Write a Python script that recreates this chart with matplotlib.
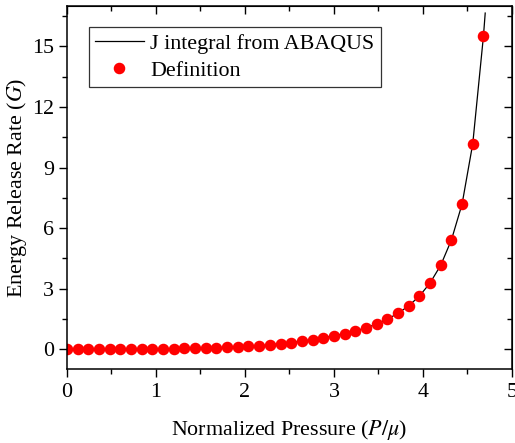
import matplotlib
matplotlib.use('Agg')
import matplotlib.pyplot as plt
from matplotlib.ticker import MultipleLocator, NullFormatter

# normalized pressure P/mu and energy release rate G
pressure = [0.00, 0.12, 0.24, 0.36, 0.48, 0.60, 0.72, 0.84, 0.96, 1.08,
            1.20, 1.32, 1.44, 1.56, 1.68, 1.80, 1.92, 2.04, 2.16, 2.28,
            2.40, 2.52, 2.64, 2.76, 2.88, 3.00, 3.12, 3.24, 3.36, 3.48,
            3.60, 3.72, 3.84, 3.96, 4.08, 4.20, 4.32, 4.44, 4.56, 4.68]
g_definition = [0.000, 0.001, 0.002, 0.004, 0.006, 0.009, 0.012, 0.016, 0.021, 0.027,
                0.034, 0.042, 0.052, 0.064, 0.078, 0.095, 0.115, 0.14, 0.17, 0.22,
                0.28, 0.33, 0.40, 0.48, 0.57, 0.67, 0.78, 0.91, 1.06, 1.25,
                1.49, 1.78, 2.15, 2.63, 3.28, 4.16, 5.41, 7.19, 10.18, 15.50]

# J integral curve from ABAQUS
p_abaqus = pressure + [4.70]
g_abaqus = g_definition + [16.65]

plt.rcParams['font.family'] = ['Liberation Serif', 'DejaVu Serif']
plt.rcParams['mathtext.fontset'] = 'stix'
fs = 15.8

fig = plt.figure(figsize=(5.15, 4.43), dpi=100)
ax = fig.add_axes([0.130, 0.166, 0.864, 0.8205])

ax.plot(p_abaqus, g_abaqus, color='black', lw=0.9, label='J integral from ABAQUS')
ax.plot(pressure, g_definition, 'o', color='red', ms=7.3, mec='red',
        label='Definition')

ax.set_xlim(0, 5)
ax.set_ylim(-1, 17)
ax.xaxis.set_major_locator(MultipleLocator(1))
ax.xaxis.set_minor_locator(MultipleLocator(0.5))
ax.yaxis.set_major_locator(MultipleLocator(3))
ax.yaxis.set_minor_locator(MultipleLocator(1.5))
ax.tick_params(which='both', direction='out', labelsize=fs, width=1)
ax.tick_params(which='major', length=6)
ax.tick_params(which='minor', length=3.5)
for s in ax.spines.values():
    s.set_linewidth(1.1)

# mirrored ticks pointing inward on top and right
top = ax.secondary_xaxis('top')
top.xaxis.set_major_locator(MultipleLocator(1))
top.xaxis.set_minor_locator(MultipleLocator(0.5))
top.xaxis.set_major_formatter(NullFormatter())
top.tick_params(which='both', direction='in', width=1)
top.tick_params(which='major', length=6)
top.tick_params(which='minor', length=3.5)
right = ax.secondary_yaxis('right')
right.yaxis.set_major_locator(MultipleLocator(3))
right.yaxis.set_minor_locator(MultipleLocator(1.5))
right.yaxis.set_major_formatter(NullFormatter())
right.tick_params(which='both', direction='in', width=1)
right.tick_params(which='major', length=6)
right.tick_params(which='minor', length=3.5)

ax.set_xlabel(r'Normalized Pressure ($P/\mu$)', fontsize=fs, labelpad=12)
ax.set_ylabel(r'Energy Release Rate ($G$)', fontsize=fs, labelpad=2)

leg = ax.legend(loc='upper left', bbox_to_anchor=(0.049, 0.943), fontsize=fs,
                frameon=True, fancybox=False, edgecolor='black',
                handlelength=2.2, borderpad=0.3, labelspacing=0.3,
                handletextpad=0.3, borderaxespad=0)
leg.get_frame().set_linewidth(0.9)

fig.savefig('out.png', dpi=100)
